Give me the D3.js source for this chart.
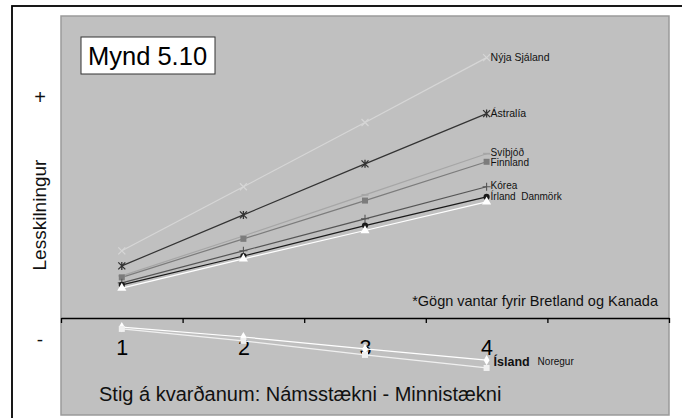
<!DOCTYPE html>
<html><head><meta charset="utf-8">
<script src="https://cdn.jsdelivr.net/npm/d3@7"></script>
<style>body{margin:0;background:#fff}svg{display:block;font-family:"Liberation Sans",Arial,sans-serif}</style>
</head><body>
<svg id="c" width="682" height="418"></svg>
<script>
const categories = [1, 2, 3, 4];
const seriesNames = ["Nýja Sjáland","Ástralía","Svíþjóð","Finnland","Kórea","Írland","Danmörk","Ísland","Noregur"];
const nyjaSjaland = [2.58, 5.04, 7.51, 10.0];
const astralia   = [2.0, 3.96, 5.92, 7.85];
const svithjod   = [1.62, 3.15, 4.73, 6.31];
const finnland   = [1.56, 3.04, 4.51, 6.0];
const korea      = [1.35, 2.58, 3.81, 5.04];
const irland     = [1.27, 2.38, 3.55, 4.65];
const danmork    = [1.15, 2.27, 3.36, 4.46];
const island     = [-0.35, -0.73, -1.19, -1.62];
const noregur    = [-0.42, -0.88, -1.42, -1.92];
const tickLabels = ["1","2","3","4"];

const svg = d3.select("#c");
const x = d3.scaleLinear().domain([0.5, 5.5]).range([61, 669]);
const y = d3.scaleLinear().domain([-3.65, 11.6]).range([413, 16]);

// outer frame
svg.append("rect").attr("x",12).attr("y",6).attr("width",700).attr("height",430)
  .attr("fill","#fff").attr("stroke","#000").attr("stroke-width",1.8);
// plot area
svg.append("rect").attr("x",61).attr("y",16).attr("width",608).attr("height",399)
  .attr("fill","#c0c0c0").attr("stroke","#9a9a9a").attr("stroke-width",1.5);

// axis ticks
const ax = svg.append("g").attr("transform",`translate(0,${y(0)})`)
  .call(d3.axisBottom(x).tickValues([0.5,1.5,2.5,3.5,4.5,5.5]).tickFormat("").tickSize(5).tickSizeOuter(0));
ax.select(".domain").attr("stroke","#000").attr("stroke-width",1.3);
ax.selectAll(".tick line").attr("stroke","#000").attr("stroke-width",1.3);
const ax2 = svg.append("g").attr("transform",`translate(0,${y(0)})`)
  .call(d3.axisBottom(x).tickValues(categories).tickFormat((d,i)=>tickLabels[i]).tickSize(0).tickPadding(22));
ax2.select(".domain").remove();
ax2.selectAll("text").attr("font-size",21.5).attr("fill","#000").attr("font-family","Liberation Sans, Arial, sans-serif");

const series = [
  {name:"Nýja Sjáland", v:nyjaSjaland, c:"#d6d6d6", m:"x"},
  {name:"Ástralía", v:astralia, c:"#333333", m:"ast"},
  {name:"Svíþjóð", v:svithjod, c:"#a6a6a6", m:"dash"},
  {name:"Finnland", v:finnland, c:"#7c7c7c", m:"square"},
  {name:"Kórea", v:korea, c:"#555555", m:"plus"},
  {name:"Írland", v:irland, c:"#1a1a1a", m:"circle"},
  {name:"Danmörk", v:danmork, c:"#ffffff", m:"triangle"},
  {name:"Ísland", v:island, c:"#ffffff", m:"diamond"},
  {name:"Noregur", v:noregur, c:"#f0f0f0", m:"square"}
];

const line = d3.line().x((d,i)=>x(categories[i])).y(d=>y(d));
const g = svg.append("g");
series.forEach(s=>{
  g.append("path").attr("d",line(s.v)).attr("fill","none").attr("stroke",s.c).attr("stroke-width",1.2);
});
series.forEach(s=>{
  s.v.forEach((d,i)=>{
    const px = x(categories[i]), py = y(d);
    const t = g.append("g").attr("transform",`translate(${px},${py})`);
    if (s.m==="x") {
      t.append("path").attr("d","M-3.5,-3.5L3.5,3.5M-3.5,3.5L3.5,-3.5").attr("stroke",s.c).attr("stroke-width",1.2);
    } else if (s.m==="ast") {
      t.append("path").attr("d","M-3.5,-3.5L3.5,3.5M-3.5,3.5L3.5,-3.5M0,-4L0,4").attr("stroke",s.c).attr("stroke-width",1.3);
    } else if (s.m==="dash") {
      t.append("path").attr("d","M-3.5,0L3.5,0").attr("stroke",s.c).attr("stroke-width",1.8);
    } else if (s.m==="plus") {
      t.append("path").attr("d","M-4,0L4,0M0,-4L0,4").attr("stroke",s.c).attr("stroke-width",1.1);
    } else {
      const type = {square:d3.symbolSquare, circle:d3.symbolCircle, triangle:d3.symbolTriangle, diamond:d3.symbolDiamond}[s.m];
      const size = {square:36, circle:30, triangle:36, diamond:30}[s.m];
      t.append("path").attr("d",d3.symbol(type,size)()).attr("fill",s.c);
    }
  });
});

// series labels
const lx = x(4) + 4;
const lab = (txt, yy, opts={}) => svg.append("text").attr("x",opts.x||lx).attr("y",yy)
  .attr("dy","0.35em").attr("font-size",opts.fs||10.5).attr("font-weight",opts.fw||"normal").attr("fill","#111").text(txt);
lab(seriesNames[0], y(nyjaSjaland[3]));
lab(seriesNames[1], y(astralia[3]));
lab(seriesNames[2], y(svithjod[3])-1.5, {fs:10});
lab(seriesNames[3], y(finnland[3])+0.5, {fs:10});
lab(seriesNames[4], y(korea[3])-1.5, {fs:10});
lab(seriesNames[5] + "\u00a0\u00a0" + seriesNames[6], y(irland[3])-0.5, {fs:10});
lab(seriesNames[7], y(island[3])+1, {x:lx+3, fs:12.5, fw:"bold"});
lab(seriesNames[8], y(island[3])+1.5, {x:lx+47, fs:10});

// title box
svg.append("rect").attr("x",81).attr("y",37).attr("width",134).attr("height",37)
  .attr("fill","#fff").attr("stroke","#333").attr("stroke-width",1);
svg.append("text").attr("x",88).attr("y",65).attr("font-size",25.5).attr("fill","#000").text("Mynd 5.10");

// footnote
svg.append("text").attr("x",658).attr("y",306).attr("text-anchor","end").attr("font-size",14.5)
  .attr("fill","#111").text("*Gögn vantar fyrir Bretland og Kanada");

// x title
svg.append("text").attr("x",99).attr("y",401).attr("font-size",20).attr("fill","#111")
  .text("Stig á kvarðanum: Námsstækni - Minnistækni");

// y title
svg.append("text").attr("transform","translate(46,215) rotate(-90)").attr("text-anchor","middle")
  .attr("font-size",19).attr("fill","#111").text("Lesskilningur");
svg.append("text").attr("x",40).attr("y",104).attr("text-anchor","middle").attr("font-size",20).attr("fill","#111").text("+");
svg.append("text").attr("x",40).attr("y",346).attr("text-anchor","middle").attr("font-size",19).attr("fill","#111").text("-");
</script>
</body></html>
